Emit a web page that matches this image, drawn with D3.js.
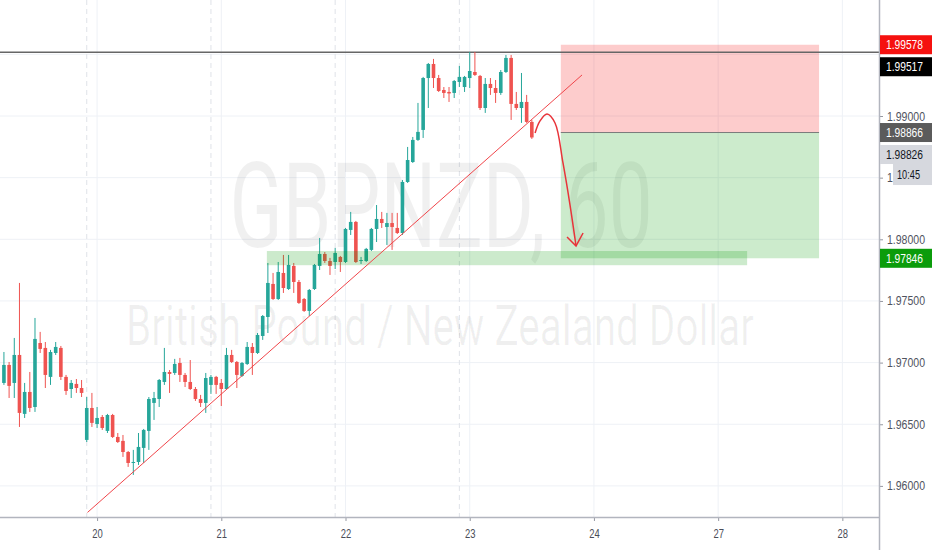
<!DOCTYPE html>
<html>
<head>
<meta charset="utf-8">
<script src="https://cdn.jsdelivr.net/npm/d3@7"></script>
<style>
  body { margin: 0; background: #fff; }
  svg text { font-family: "Liberation Sans", Arial, sans-serif; }
</style>
</head>
<body>
<div id="viz"></div>
<script>
// GBPNZD 60 min bars, bar 0 = day 20 00:00
var firstBar = -18;

var open = [1.96835,1.96981,1.96835,1.97062,1.96584,1.96762,1.96640,1.97159,1.97119,1.96884,
  1.97078,1.97119,1.96884,1.96786,1.96827,1.96794,1.96373,1.96632,1.96502,1.96559,
  1.96446,1.96575,1.96397,1.96365,1.96275,1.96186,1.96194,1.96308,1.96446,1.96673,
  1.96705,1.96843,1.96924,1.96916,1.96997,1.96900,1.96843,1.96786,1.96705,1.96673,
  1.96819,1.96884,1.96835,1.96786,1.97062,1.97005,1.96892,1.96989,1.97127,1.97078,
  1.97216,1.97370,1.97638,1.97516,1.97727,1.97597,1.97784,1.97654,1.97516,1.97419,
  1.97597,1.97784,1.97881,1.97824,1.97816,1.97857,1.97816,1.98076,1.98141,1.97824,
  1.97824,1.97914,1.98084,1.98165,1.98100,1.98132,1.98092,1.98051,1.98465,1.98627,
  1.98806,1.98887,1.99308,1.99422,1.99308,1.99211,1.99195,1.99187,1.99276,1.99235,
  1.99308,1.99357,1.99325,1.99065,1.99260,1.99227,1.99187,1.99357,1.99471,1.99098,
  1.99065,1.99114,1.98952];

var high = [1.97086,1.97005,1.97200,1.97646,1.96835,1.96924,1.97362,1.97249,1.97167,1.97103,
  1.97167,1.97135,1.96900,1.96859,1.96867,1.96859,1.96721,1.96754,1.96640,1.96575,
  1.96584,1.96584,1.96429,1.96413,1.96283,1.96292,1.96429,1.96462,1.96721,1.96762,
  1.96867,1.97119,1.96940,1.97030,1.97038,1.96916,1.97021,1.96802,1.96738,1.96916,
  1.96900,1.96892,1.96867,1.97119,1.97103,1.97013,1.97005,1.97167,1.97159,1.97240,
  1.97386,1.97808,1.97727,1.97816,1.97873,1.97873,1.97808,1.97670,1.97524,1.97597,
  1.97800,1.98011,1.97897,1.97849,1.97930,1.97865,1.98092,1.98222,1.98149,1.97857,
  1.97930,1.98092,1.98278,1.98222,1.98214,1.98214,1.98214,1.98481,1.98749,1.98830,
  1.99106,1.99317,1.99430,1.99463,1.99333,1.99235,1.99235,1.99292,1.99406,1.99325,
  1.99519,1.99519,1.99333,1.99308,1.99308,1.99292,1.99373,1.99495,1.99495,1.99195,
  1.99349,1.99171,1.98968];

var low = [1.96819,1.96713,1.96713,1.96478,1.96551,1.96600,1.96600,1.97078,1.96794,1.96819,
  1.97062,1.96859,1.96738,1.96713,1.96754,1.96721,1.96356,1.96478,1.96470,1.96454,
  1.96429,1.96389,1.96348,1.96235,1.96154,1.96089,1.96170,1.96186,1.96292,1.96535,
  1.96640,1.96819,1.96754,1.96900,1.96843,1.96802,1.96778,1.96689,1.96640,1.96592,
  1.96746,1.96746,1.96648,1.96778,1.96997,1.96794,1.96884,1.96981,1.96900,1.97070,
  1.97184,1.97240,1.97508,1.97508,1.97565,1.97589,1.97565,1.97476,1.97411,1.97378,
  1.97589,1.97751,1.97808,1.97711,1.97759,1.97735,1.97808,1.98035,1.97808,1.97800,
  1.97816,1.97905,1.97978,1.98092,1.97954,1.97914,1.98043,1.98035,1.98457,1.98619,
  1.98798,1.98822,1.99065,1.99227,1.99195,1.99146,1.99114,1.99146,1.99235,1.99195,
  1.99227,1.99325,1.99049,1.99025,1.99171,1.99106,1.99171,1.99349,1.98968,1.99049,
  1.98944,1.98944,1.98814];

var close = [1.96981,1.96811,1.97062,1.96592,1.96762,1.96632,1.97192,1.97111,1.96900,1.97086,
  1.97127,1.96884,1.96770,1.96835,1.96794,1.96754,1.96632,1.96511,1.96551,1.96470,
  1.96575,1.96397,1.96356,1.96275,1.96186,1.96194,1.96316,1.96454,1.96705,1.96713,
  1.96859,1.96924,1.96908,1.96989,1.96900,1.96843,1.96786,1.96705,1.96673,1.96875,
  1.96884,1.96819,1.96786,1.97062,1.97005,1.96900,1.96997,1.97127,1.97078,1.97224,
  1.97378,1.97646,1.97516,1.97735,1.97605,1.97792,1.97654,1.97484,1.97419,1.97589,
  1.97792,1.97881,1.97824,1.97784,1.97889,1.97816,1.98084,1.98141,1.97816,1.97832,
  1.97922,1.98084,1.98165,1.98132,1.98132,1.98100,1.98051,1.98465,1.98643,1.98806,
  1.98871,1.99308,1.99422,1.99308,1.99203,1.99187,1.99183,1.99284,1.99317,1.99317,
  1.99365,1.99333,1.99065,1.99260,1.99227,1.99187,1.99357,1.99471,1.99098,1.99065,
  1.99114,1.98952,1.98826];

var dayBars = [0, 24, 48, 72, 96, 120, 144];
var dayLabels = ['20', '21', '22', '23', '24', '27', '28'];
var sessionBars = [-2, 22, 46, 70];
var priceTicks = [1.96, 1.965, 1.97, 1.975, 1.98, 1.985, 1.99];
var gridPrices = [1.96, 1.965, 1.97, 1.975, 1.98, 1.985, 1.99, 1.995];

// drawings
var resistance = 1.99517;
var trendBars = [-1.85, 93.7];
var trendPrices = [1.95785, 1.99333];
var zoneBars = [32.8, 125.6];
var zonePrices = [1.97790, 1.97905];
var posBars = [89.6, 139.5];
var entry = 1.98866, stop = 1.99578, target = 1.97846;
var arrowBars = [84.63, 85.58, 86.94, 88.48, 90.02, 91.38, 92.54];
var arrowPrices = [1.98862, 1.98960, 1.99016, 1.98943, 1.98619, 1.98278, 1.97946];
var headBars = [90.8, 92.54, 93.9];
var headPrices = [1.98019, 1.97946, 1.98051];
var lastPrice = 1.98826;
var countdown = '10:45';

var width = 932, height = 550;
var plotW = 879, plotH = 517;

var bars = open.map(function(o, i){
  return {bar: firstBar + i, o: o, h: high[i], l: low[i], c: close[i]};
});

var x = d3.scaleLinear().domain([-18.76, 151.08]).range([0, plotW]);
var y = d3.scaleLinear().domain([1.957478, 1.999408]).range([plotH, 0]);

var svg = d3.select('#viz').append('svg')
  .attr('width', width)
  .attr('height', height);

// grid
svg.append('g').selectAll('line').data(gridPrices).enter().append('line')
  .attr('x1', 0).attr('x2', plotW)
  .attr('y1', function(d){ return y(d) }).attr('y2', function(d){ return y(d) })
  .attr('stroke', '#eef1f6').attr('stroke-width', 1);

svg.append('g').selectAll('line').data(dayBars).enter().append('line')
  .attr('x1', function(d){ return x(d) }).attr('x2', function(d){ return x(d) })
  .attr('y1', 0).attr('y2', plotH)
  .attr('stroke', '#eef1f6').attr('stroke-width', 1);

svg.append('g').selectAll('line').data(sessionBars).enter().append('line')
  .attr('x1', function(d){ return x(d) }).attr('x2', function(d){ return x(d) })
  .attr('y1', 0).attr('y2', plotH)
  .attr('stroke', '#dfe2e8').attr('stroke-width', 1)
  .attr('stroke-dasharray', '5,4');

// watermark: squeeze horizontally so it fits the given width
function watermark(txt, cx, baseline, size, w){
  var t = svg.append('text')
    .attr('x', 0).attr('y', 0)
    .attr('text-anchor', 'middle')
    .attr('font-size', size)
    .attr('fill', 'rgba(0,0,0,0.06)')
    .style('font-family', 'Roboto, sans-serif')
    .text(txt);
  var k = w / t.node().getComputedTextLength();
  t.attr('transform', 'translate(' + cx + ',' + baseline + ') scale(' + k + ',1)');
}
watermark('GBPNZD, 60', 441, 247, 118, 423);
watermark('British Pound / New Zealand Dollar', 440, 345, 56, 628);

// short position box
svg.append('rect')
  .attr('x', x(posBars[0])).attr('width', x(posBars[1]) - x(posBars[0]))
  .attr('y', y(stop)).attr('height', y(entry) - y(stop))
  .attr('fill', 'rgba(245,0,0,0.2)');
svg.append('rect')
  .attr('x', x(posBars[0])).attr('width', x(posBars[1]) - x(posBars[0]))
  .attr('y', y(entry)).attr('height', y(target) - y(entry))
  .attr('fill', 'rgba(0,153,0,0.2)');
svg.append('line')
  .attr('x1', x(posBars[0])).attr('x2', x(posBars[1]))
  .attr('y1', y(entry)).attr('y2', y(entry))
  .attr('stroke', '#7a7a7a').attr('stroke-width', 1);

// resistance line
svg.append('line')
  .attr('x1', 0).attr('x2', plotW)
  .attr('y1', y(resistance)).attr('y2', y(resistance))
  .attr('stroke', '#666').attr('stroke-width', 1.5);

// candles
var g = svg.append('g');
var bodyW = 3.6;
function col(d){ return d.c >= d.o ? '#26a69a' : '#ef5350' }

g.selectAll('.wick').data(bars).enter().append('line')
  .attr('class', 'wick')
  .attr('x1', function(d){ return x(d.bar) }).attr('x2', function(d){ return x(d.bar) })
  .attr('y1', function(d){ return y(d.h) }).attr('y2', function(d){ return y(d.l) })
  .attr('stroke', col).attr('stroke-width', 1);

g.selectAll('.body').data(bars).enter().append('rect')
  .attr('class', 'body')
  .attr('x', function(d){ return x(d.bar) - bodyW/2 })
  .attr('width', bodyW)
  .attr('y', function(d){ return y(Math.max(d.o, d.c)) })
  .attr('height', function(d){ return Math.max(1, Math.abs(y(d.o) - y(d.c))) })
  .attr('fill', col);

// support zone (drawn over candles)
svg.append('rect')
  .attr('x', x(zoneBars[0])).attr('width', x(zoneBars[1]) - x(zoneBars[0]))
  .attr('y', y(zonePrices[1])).attr('height', y(zonePrices[0]) - y(zonePrices[1]))
  .attr('fill', 'rgba(0,150,0,0.2)');

// trend line
svg.append('line')
  .attr('x1', x(trendBars[0])).attr('y1', y(trendPrices[0]))
  .attr('x2', x(trendBars[1])).attr('y2', y(trendPrices[1]))
  .attr('stroke', '#f0454a').attr('stroke-width', 1);

// hand-drawn arrow
var arrowLine = d3.line()
  .x(function(d){ return x(d[0]) })
  .y(function(d){ return y(d[1]) })
  .curve(d3.curveCatmullRom);

svg.append('path')
  .attr('d', arrowLine(d3.zip(arrowBars, arrowPrices)))
  .attr('fill', 'none').attr('stroke', '#e8343a').attr('stroke-width', 1.5);
svg.append('path')
  .attr('d', d3.line().x(function(d){ return x(d[0]) }).y(function(d){ return y(d[1]) })(d3.zip(headBars, headPrices)))
  .attr('fill', 'none').attr('stroke', '#e8343a').attr('stroke-width', 1.5);

// bottom axis
var xAxis = d3.axisBottom(x)
  .tickValues(dayBars)
  .tickFormat(function(d, i){ return dayLabels[i] })
  .tickSize(4).tickSizeOuter(0).tickPadding(8);

var gx = svg.append('g').attr('transform', 'translate(0,' + plotH + ')').call(xAxis);
gx.select('.domain').remove();
gx.selectAll('line').attr('stroke', '#9598a1');
gx.selectAll('text').attr('fill', '#4a4d57').attr('font-size', 12.5)
  .attr('textLength', 10.5).attr('lengthAdjust', 'spacingAndGlyphs');
svg.append('rect').attr('x', plotW).attr('y', plotH).attr('width', width - plotW).attr('height', height - plotH).attr('fill', '#fff');
svg.append('line').attr('x1', 0).attr('x2', plotW).attr('y1', plotH + 0.5).attr('y2', plotH + 0.5)
  .attr('stroke', '#b2b5be').attr('stroke-width', 1.5);

// right axis
var yAxis = d3.axisRight(y)
  .tickValues(priceTicks)
  .tickFormat(d3.format('.5f'))
  .tickSize(4).tickSizeOuter(0).tickPadding(4);

var gy = svg.append('g').attr('transform', 'translate(' + plotW + ',0)').call(yAxis);
gy.select('.domain').remove();
gy.selectAll('line').attr('stroke', '#9598a1');
gy.selectAll('text').attr('fill', '#50535e').attr('font-size', 12.5)
  .attr('textLength', 38).attr('lengthAdjust', 'spacingAndGlyphs');

svg.append('line').attr('x1', plotW + 0.5).attr('x2', plotW + 0.5).attr('y1', 0).attr('y2', height)
  .attr('stroke', '#b2b5be').attr('stroke-width', 1.5);

// price labels on the scale
var labels = [
  {p: stop, bg: '#f5110f', fg: '#fff'},
  {p: resistance, bg: '#000', fg: '#fff'},
  {p: entry, bg: '#5b5b5b', fg: '#fff'},
  {p: lastPrice, bg: '#d6d8de', fg: '#131722'},
  {p: target, bg: '#0b9c0b', fg: '#fff'}
];
var boxH = 19, prevBottom = -Infinity;
labels.forEach(function(d){
  var top = y(d.p) - boxH/2;
  if (top < prevBottom + 3) top = prevBottom + 3;
  d.top = top;
  prevBottom = top + boxH;
});

var gl = svg.append('g');
labels.forEach(function(d){
  gl.append('rect')
    .attr('x', plotW + 1).attr('y', d.top)
    .attr('width', width - plotW - 1).attr('height', boxH)
    .attr('fill', d.bg);
  gl.append('text')
    .attr('x', plotW + 7).attr('y', d.top + boxH/2)
    .attr('dy', '0.35em')
    .attr('font-size', 13)
    .attr('textLength', 37).attr('lengthAdjust', 'spacingAndGlyphs')
    .attr('fill', d.fg)
    .text(d3.format('.5f')(d.p));
});

// countdown box under the last price
var lp = labels[3];
gl.append('rect')
  .attr('x', plotW + 14).attr('y', lp.top + boxH)
  .attr('width', width - plotW - 14).attr('height', 21)
  .attr('fill', '#d6d8de');
gl.append('text')
  .attr('x', plotW + 18).attr('y', lp.top + boxH + 10.5)
  .attr('dy', '0.35em')
  .attr('font-size', 13)
  .attr('textLength', 23).attr('lengthAdjust', 'spacingAndGlyphs')
  .attr('fill', '#131722')
  .text(countdown);
</script>
</body>
</html>
